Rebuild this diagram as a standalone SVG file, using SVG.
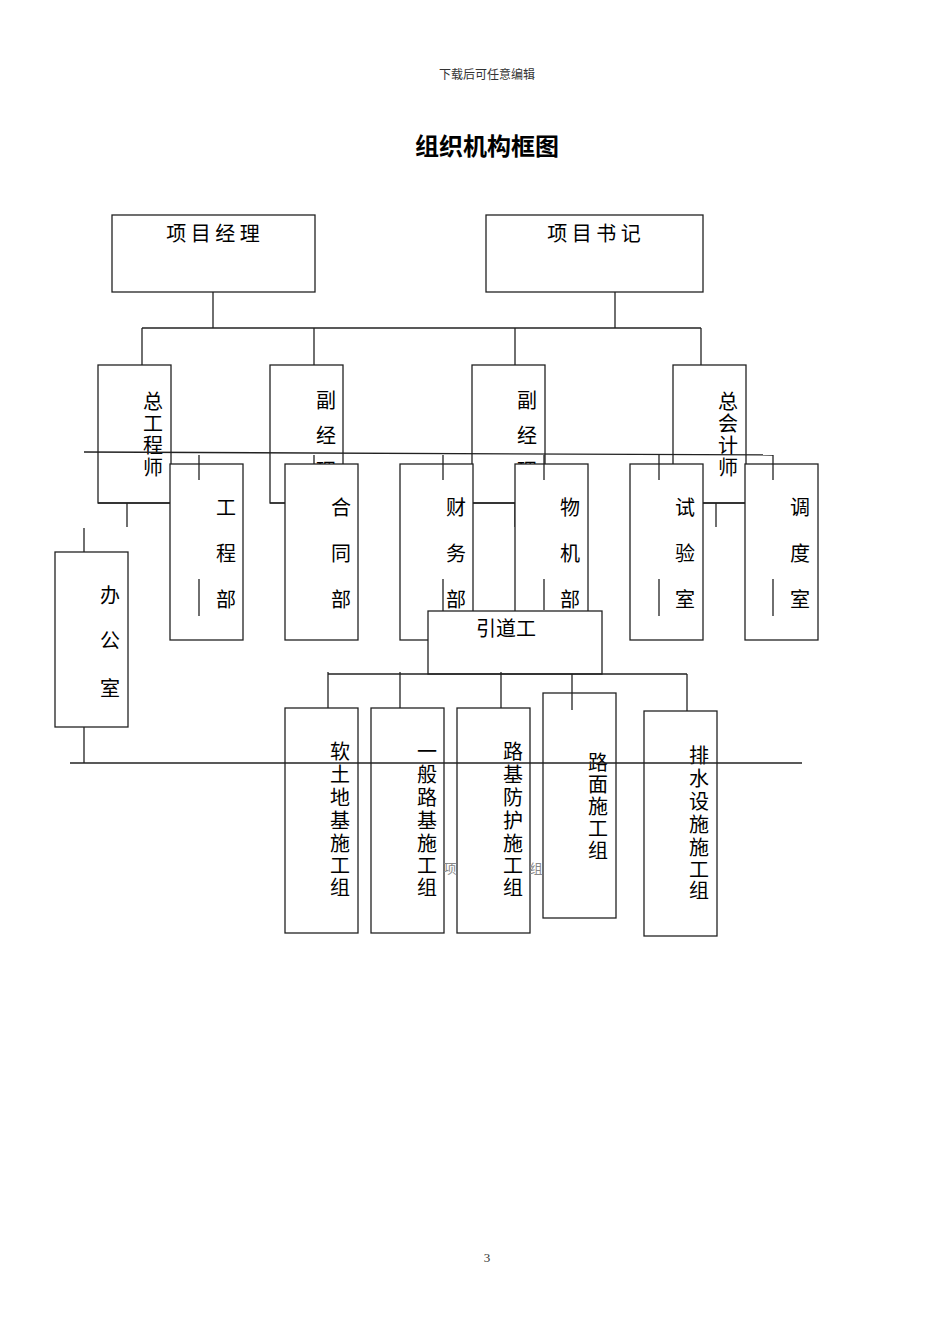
<svg xmlns="http://www.w3.org/2000/svg" width="950" height="1344" viewBox="0 0 950 1344">
<style>
rect{fill:#fff;stroke:#222;stroke-width:1.3}
line{stroke:#222;stroke-width:1.3}
text{font-family:"Noto Sans CJK SC","Noto Sans",sans-serif;fill:#000;text-anchor:middle}
.v{font-size:20px}
.s{font-size:12px;font-family:"Liberation Serif","Noto Sans CJK SC",serif;fill:#333}
</style>
<rect width="950" height="1344" style="fill:#fff;stroke:none"/>
<text x="487" y="79" class="s">下载后可任意编辑</text>
<text x="487" y="155" style="font-size:24px;font-weight:bold">组织机构框图</text>
<g id="n-xmjl"><rect x="112" y="215" width="203" height="77"/><text x="213" y="241" class="v">项 目 经 理</text></g>
<g id="n-xmsj"><rect x="486" y="215" width="217" height="77"/><text x="594" y="241" class="v">项 目 书 记</text></g>
<g id="c-top">
<line x1="213" y1="292" x2="213" y2="328"/><line x1="615" y1="292" x2="615" y2="328"/>
<line x1="142" y1="328" x2="701" y2="328"/>
<line x1="142" y1="328" x2="142" y2="365"/><line x1="314" y1="328" x2="314" y2="365"/>
<line x1="515" y1="328" x2="515" y2="365"/><line x1="701" y1="328" x2="701" y2="365"/>
</g>
<g id="n-zgcs"><rect x="98" y="365" width="73" height="138"/><text class="v" x="153"><tspan x="153" y="409">总</tspan><tspan x="153" y="431">工</tspan><tspan x="153" y="453">程</tspan><tspan x="153" y="475">师</tspan></text></g>
<g id="n-fjl1"><rect x="270" y="365" width="73" height="138"/><text class="v"><tspan x="326" y="408">副</tspan><tspan x="326" y="443">经</tspan><tspan x="326" y="478">理</tspan></text></g>
<g id="n-fjl2"><rect x="472" y="365" width="73" height="138"/><text class="v"><tspan x="527" y="408">副</tspan><tspan x="527" y="443">经</tspan><tspan x="527" y="478">理</tspan></text></g>
<g id="n-zkjs"><rect x="673" y="365" width="73" height="138"/><text class="v"><tspan x="728" y="409">总</tspan><tspan x="728" y="431">会</tspan><tspan x="728" y="453">计</tspan><tspan x="728" y="475">师</tspan></text></g>
<g id="c-mid">
<line x1="84" y1="452" x2="773" y2="455"/>
<line x1="98" y1="503" x2="171" y2="503"/><line x1="270" y1="503" x2="285" y2="503"/>
<line x1="473" y1="503" x2="515" y2="503"/><line x1="703" y1="503" x2="745" y2="503"/>
<line x1="127" y1="503" x2="127" y2="527"/><line x1="515" y1="503" x2="515" y2="527"/><line x1="716" y1="503" x2="716" y2="527"/>
<line x1="84" y1="528" x2="84" y2="552"/>
</g>
<g id="n-gcb"><rect x="170" y="464" width="73" height="176"/><text class="v"><tspan x="226" y="515">工</tspan><tspan x="226" y="561">程</tspan><tspan x="226" y="607">部</tspan></text></g>
<g id="n-htb"><rect x="285" y="464" width="73" height="176"/><text class="v"><tspan x="341" y="515">合</tspan><tspan x="341" y="561">同</tspan><tspan x="341" y="607">部</tspan></text></g>
<g id="n-cwb"><rect x="400" y="464" width="73" height="176"/><text class="v"><tspan x="456" y="515">财</tspan><tspan x="456" y="561">务</tspan><tspan x="456" y="607">部</tspan></text></g>
<g id="n-wjb"><rect x="515" y="464" width="73" height="176"/><text class="v"><tspan x="570" y="515">物</tspan><tspan x="570" y="561">机</tspan><tspan x="570" y="607">部</tspan></text></g>
<g id="n-sys"><rect x="630" y="464" width="73" height="176"/><text class="v"><tspan x="685" y="515">试</tspan><tspan x="685" y="561">验</tspan><tspan x="685" y="607">室</tspan></text></g>
<g id="n-dds"><rect x="745" y="464" width="73" height="176"/><text class="v"><tspan x="800" y="515">调</tspan><tspan x="800" y="561">度</tspan><tspan x="800" y="607">室</tspan></text></g>
<g id="c-ticks">
<line x1="199" y1="455" x2="199" y2="480"/><line x1="199" y1="579" x2="199" y2="616"/>
<line x1="314" y1="455" x2="314" y2="464"/>
<line x1="443" y1="455" x2="443" y2="480"/><line x1="443" y1="579" x2="443" y2="616"/>
<line x1="544" y1="455" x2="544" y2="480"/><line x1="544" y1="579" x2="544" y2="610"/>
<line x1="659" y1="455" x2="659" y2="480"/><line x1="659" y1="579" x2="659" y2="616"/>
<line x1="773" y1="455" x2="773" y2="480"/><line x1="773" y1="579" x2="773" y2="616"/>
</g>
<g id="n-bgs"><rect x="55" y="552" width="73" height="175"/><text class="v"><tspan x="110" y="603">办</tspan><tspan x="110" y="648">公</tspan><tspan x="110" y="696">室</tspan></text></g>
<g id="n-ydg"><rect x="428" y="611" width="174" height="63"/><text x="506" y="636" class="v">引道工</text></g>
<g id="c-low">
<line x1="328" y1="674" x2="687" y2="674"/>
<line x1="328" y1="672" x2="328" y2="708"/><line x1="400" y1="672" x2="400" y2="708"/>
<line x1="501" y1="672" x2="501" y2="708"/><line x1="687" y1="674" x2="687" y2="711"/>
</g>
<g id="n-rt"><rect x="285" y="708" width="73" height="225"/><text class="v"><tspan x="340" y="759">软</tspan><tspan x="340" y="782">土</tspan><tspan x="340" y="805">地</tspan><tspan x="340" y="828">基</tspan><tspan x="340" y="851">施</tspan><tspan x="340" y="873">工</tspan><tspan x="340" y="895">组</tspan></text></g>
<g id="n-yb"><rect x="371" y="708" width="73" height="225"/><text class="v"><tspan x="427" y="759">一</tspan><tspan x="427" y="782">般</tspan><tspan x="427" y="805">路</tspan><tspan x="427" y="828">基</tspan><tspan x="427" y="851">施</tspan><tspan x="427" y="873">工</tspan><tspan x="427" y="895">组</tspan></text></g>
<g id="n-ljfh"><rect x="457" y="708" width="73" height="225"/><text class="v"><tspan x="513" y="759">路</tspan><tspan x="513" y="782">基</tspan><tspan x="513" y="805">防</tspan><tspan x="513" y="828">护</tspan><tspan x="513" y="851">施</tspan><tspan x="513" y="873">工</tspan><tspan x="513" y="895">组</tspan></text></g>
<g id="n-lm"><rect x="543" y="693" width="73" height="225"/><text class="v"><tspan x="598" y="770">路</tspan><tspan x="598" y="792">面</tspan><tspan x="598" y="814">施</tspan><tspan x="598" y="836">工</tspan><tspan x="598" y="858">组</tspan></text></g>
<g id="n-ps"><rect x="644" y="711" width="73" height="225"/><text class="v"><tspan x="699" y="763">排</tspan><tspan x="699" y="786">水</tspan><tspan x="699" y="809">设</tspan><tspan x="699" y="832">施</tspan><tspan x="699" y="855">施</tspan><tspan x="699" y="877">工</tspan><tspan x="699" y="898">组</tspan></text></g>
<g id="c-bottom">
<line x1="572" y1="674" x2="572" y2="710"/>
<line x1="84" y1="727" x2="84" y2="763"/>
<line x1="70" y1="763" x2="802" y2="763"/>
</g>
<text x="450" y="873" style="font-size:13px;fill:#888">项</text>
<text x="536" y="873" style="font-size:13px;fill:#888">组</text>
<text x="487" y="1262" class="s" style="font-size:13px">3</text>
</svg>
